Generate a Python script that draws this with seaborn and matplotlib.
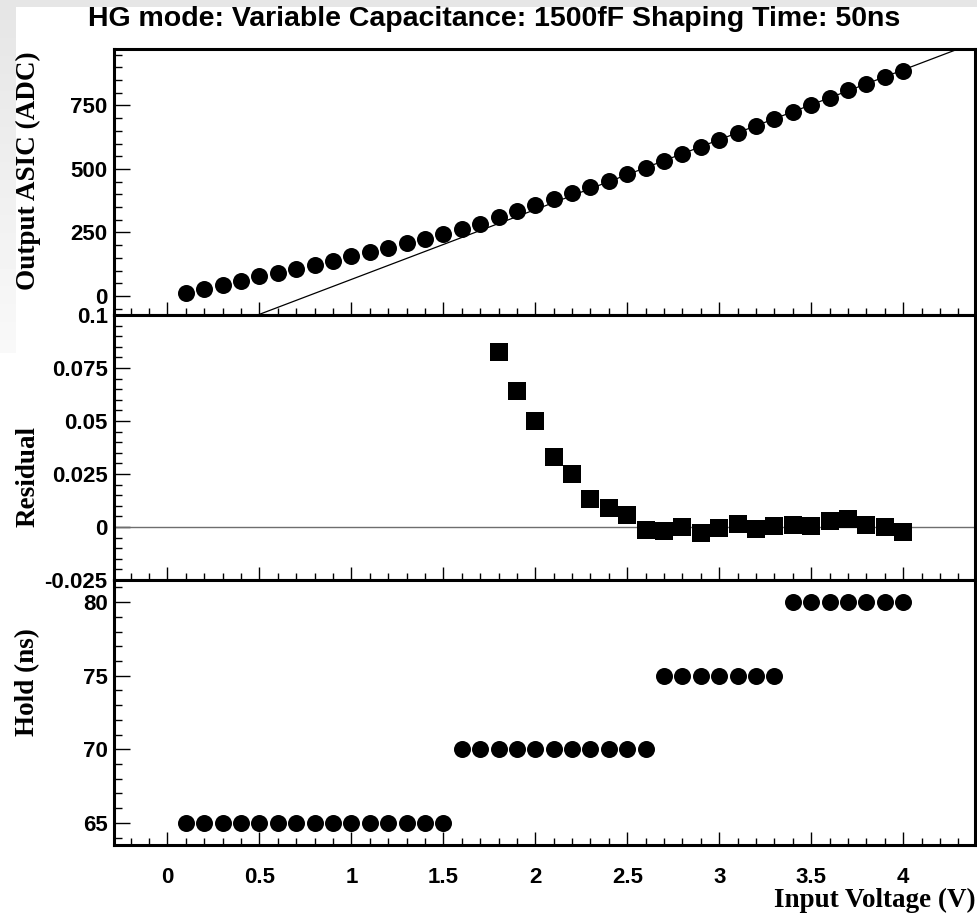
import numpy as np
import pandas as pd
import matplotlib
matplotlib.use("Agg")
import matplotlib.pyplot as plt
from matplotlib.ticker import FixedLocator, MultipleLocator, FuncFormatter
from matplotlib.patches import Rectangle
import seaborn as sns

# ---------------- data ----------------
voltage = [0.1, 0.2, 0.3, 0.4, 0.5, 0.6, 0.7, 0.8, 0.9, 1.0,
           1.1, 1.2, 1.3, 1.4, 1.5, 1.6, 1.7, 1.8, 1.9, 2.0,
           2.1, 2.2, 2.3, 2.4, 2.5, 2.6, 2.7, 2.8, 2.9, 3.0,
           3.1, 3.2, 3.3, 3.4, 3.5, 3.6, 3.7, 3.8, 3.9, 4.0]
adc = [13, 28, 44, 60, 77, 92, 107, 123, 139, 156,
       172, 189, 207, 225, 244, 263, 285, 309, 333, 357,
       380, 405, 428, 454, 480, 504, 531, 560, 586, 614,
       643, 669, 697, 725, 752, 781, 809, 835, 860, 885]
fit_slope = 275.0
fit_intercept = -210.0

res_voltage = [1.8, 1.9, 2.0, 2.1, 2.2, 2.3, 2.4, 2.5, 2.6, 2.7,
               2.8, 2.9, 3.0, 3.1, 3.2, 3.3, 3.4, 3.5, 3.6, 3.7,
               3.8, 3.9, 4.0]
residual = [0.0827, 0.0640, 0.0500, 0.0330, 0.0250, 0.0134, 0.0090, 0.0058,
            -0.0016, -0.0021, -0.0002, -0.0028, -0.0005, 0.0016, -0.0009,
            0.0003, 0.0011, 0.0003, 0.0026, 0.0039, 0.0011, -0.0002, -0.0024]

hold = [65] * 15 + [70] * 11 + [75] * 7 + [80] * 7

x_ticks = [0, 0.5, 1, 1.5, 2, 2.5, 3, 3.5, 4]
adc_ticks = [0, 250, 500, 750]
res_ticks = [-0.025, 0, 0.025, 0.05, 0.075, 0.1]
hold_ticks = [65, 70, 75, 80]

title = "HG mode: Variable Capacitance: 1500fF Shaping Time: 50ns"
xlabel = "Input Voltage (V)"
ylabels = ["Output ASIC (ADC)", "Residual", "Hold (ns)"]

df = pd.DataFrame({"voltage": voltage, "adc": adc, "hold": hold})
df_res = pd.DataFrame({"voltage": res_voltage, "residual": residual})

# ---------------- style ----------------
sns.set_theme(style="white")
plt.rcParams["axes.unicode_minus"] = False
plt.rcParams["font.family"] = ["Liberation Sans", "DejaVu Sans"]
plt.rcParams["text.color"] = "black"
plt.rcParams["xtick.labelcolor"] = "black"
plt.rcParams["ytick.labelcolor"] = "black"

W, H = 978, 922
fig = plt.figure(figsize=(W / 100, H / 100), dpi=100)
fig.patch.set_facecolor("white")

# grey window background bits
fig.patches.append(Rectangle((0, 1 - 7 / H), 1, 7 / H, transform=fig.transFigure,
                             facecolor="#e6e6e6", edgecolor="none", zorder=0))
gax = fig.add_axes([0, 1 - 353 / H, 16 / W, 346 / H], zorder=0)
grad = np.linspace(0.90, 0.975, 64).reshape(-1, 1)
gax.imshow(grad, cmap="gray", vmin=0, vmax=1, aspect="auto", interpolation="bilinear")
gax.axis("off")

L = 114 / W
AW = (975 - 114) / W
ax1 = fig.add_axes([L, 1 - 315 / H, AW, 266 / H])
ax2 = fig.add_axes([L, 1 - 580 / H, AW, 265 / H])
ax3 = fig.add_axes([L, 1 - 845 / H, AW, 265 / H])

XLIM = (-0.29, 4.39)
MS = 150

# top panel
sns.scatterplot(data=df, x="voltage", y="adc", ax=ax1, color="black", s=MS,
                marker="o", linewidth=0, zorder=3)
xx = np.array(XLIM)
sns.lineplot(x=xx, y=fit_slope * xx + fit_intercept, ax=ax1, color="black",
             linewidth=0.9, zorder=2)
ax1.set_ylim(-75, 972)

# residual panel
ax2.axhline(0, color="#6e6e6e", linewidth=1.0, zorder=1)
sns.scatterplot(data=df_res, x="voltage", y="residual", ax=ax2, color="black",
                s=MS, marker="s", linewidth=0, zorder=3)
ax2.set_ylim(-0.025, 0.1)

# hold panel
sns.scatterplot(data=df, x="voltage", y="hold", ax=ax3, color="black", s=MS,
                marker="o", linewidth=0, zorder=3)
ax3.set_ylim(63.5, 81.5)

fmt = FuncFormatter(lambda v, p: f"{v:g}")
tick_font = dict(family="Liberation Sans", weight="bold", size=16)

for ax, yt, ymin in [(ax1, adc_ticks, 50), (ax2, res_ticks, 0.005), (ax3, hold_ticks, 1)]:
    ax.set_xlim(*XLIM)
    ax.set_xlabel("")
    ax.set_ylabel("")
    ax.xaxis.set_major_locator(FixedLocator(x_ticks))
    ax.xaxis.set_minor_locator(MultipleLocator(0.1))
    ax.yaxis.set_major_locator(FixedLocator(yt))
    ax.yaxis.set_minor_locator(MultipleLocator(ymin))
    ax.xaxis.set_major_formatter(fmt)
    ax.yaxis.set_major_formatter(fmt)
    for s in ax.spines.values():
        s.set_linewidth(2.2)
        s.set_color("black")
        s.set_visible(True)
    ax.tick_params(axis="x", which="major", direction="in", length=9.5, width=1.0,
                   color="black", bottom=True, top=False, pad=16,
                   labelbottom=(ax is ax3))
    ax.tick_params(axis="x", which="minor", direction="in", length=5, width=1.0,
                   color="black", bottom=True, top=False)
    ax.tick_params(axis="y", which="major", direction="in", length=11.5, width=1.0,
                   color="black", left=True, right=False, pad=4.5)
    ax.tick_params(axis="y", which="minor", direction="in", length=5.8, width=1.0,
                   color="black", left=True, right=False)
    for lab in ax.get_xticklabels() + ax.get_yticklabels():
        lab.set_fontproperties(matplotlib.font_manager.FontProperties(**tick_font))
        lab.set_color("black")
    ax.set_facecolor("white")
    ax.grid(False)

# texts
fig.text(494 / W, 1 - 19 / H, title, ha="center", va="center",
         fontsize=20.5, fontweight="bold", family="Liberation Sans", color="black")
label_font = dict(family="Liberation Serif", fontweight="bold", fontsize=19.5, color="black")
for lab, yc in zip(ylabels, [171, 476, 682]):
    fig.text(28 / W, 1 - yc / H, lab, rotation=90, ha="center", va="center", **label_font)
fig.text(976 / W, 1 - 907 / H, xlabel, ha="right", va="baseline", **label_font)

fig.savefig("out.png", dpi=100, facecolor="white")
